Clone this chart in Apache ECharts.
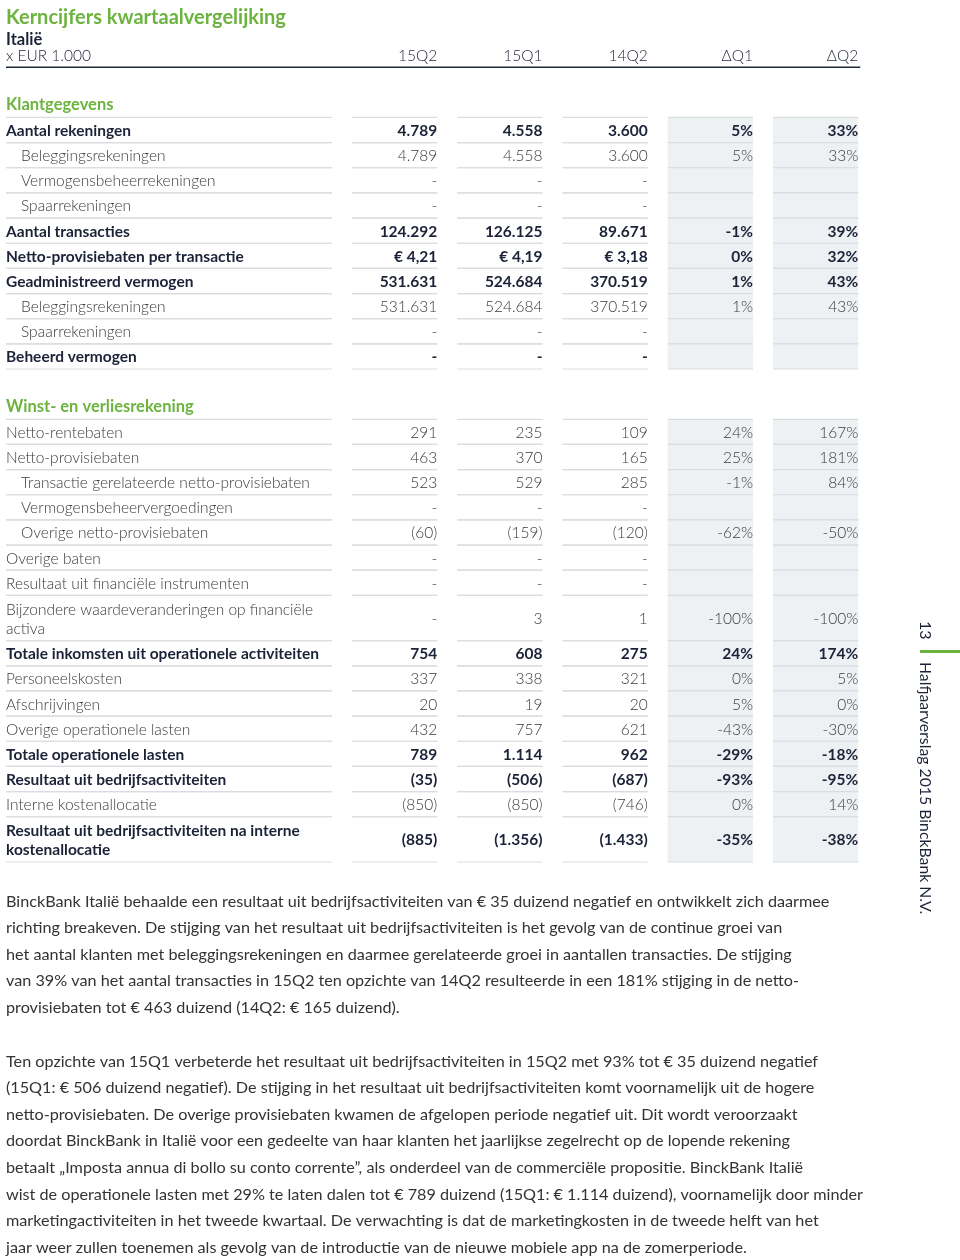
<!DOCTYPE html>
<html>
<head>
<meta charset="utf-8">
<script src="https://cdn.jsdelivr.net/npm/echarts@6/dist/echarts.min.js"></script>
<style>
html, body { margin: 0; padding: 0; background: #fff; }
#main { width: 960px; height: 1260px; }
</style>
</head>
<body>
<div id="main"></div>
<script>
var columns = ['15Q2', '15Q1', '14Q2', 'ΔQ1', 'ΔQ2'];

var rowLabels = [
    'x EUR 1.000', '', 'Klantgegevens',
    'Aantal rekeningen', 'Beleggingsrekeningen', 'Vermogensbeheerrekeningen', 'Spaarrekeningen',
    'Aantal transacties', 'Netto-provisiebaten per transactie', 'Geadministreerd vermogen',
    'Beleggingsrekeningen', 'Spaarrekeningen', 'Beheerd vermogen',
    '', 'Winst- en verliesrekening',
    'Netto-rentebaten', 'Netto-provisiebaten', 'Transactie gerelateerde netto-provisiebaten',
    'Vermogensbeheervergoedingen', 'Overige netto-provisiebaten', 'Overige baten',
    'Resultaat uit financiële instrumenten', 'Bijzondere waardeveranderingen op financiële\nactiva',
    'Totale inkomsten uit operationele activiteiten', 'Personeelskosten', 'Afschrijvingen',
    'Overige operationele lasten', 'Totale operationele lasten', 'Resultaat uit bedrijfsactiviteiten',
    'Interne kostenallocatie', 'Resultaat uit bedrijfsactiviteiten na interne\nkostenallocatie'
];
// head / gap / section / bold / normal / sub ; a "2" means two text lines
var rowKinds = [
    'head', 'gap', 'section',
    'bold', 'sub', 'sub', 'sub', 'bold', 'bold', 'bold', 'sub', 'sub', 'bold',
    'gap', 'section',
    'normal', 'normal', 'sub', 'sub', 'sub', 'normal', 'normal', 'normal2',
    'bold', 'normal', 'normal', 'normal', 'bold', 'bold', 'normal', 'bold2'
];
var euroRows = ['Netto-provisiebaten per transactie'];

var val15Q2 = [null, null, null,
    4789, 4789, null, null, 124292, 4.21, 531631, 531631, null, null,
    null, null,
    291, 463, 523, null, -60, null, null, null, 754, 337, 20, 432, 789, -35, -850, -885];
var val15Q1 = [null, null, null,
    4558, 4558, null, null, 126125, 4.19, 524684, 524684, null, null,
    null, null,
    235, 370, 529, null, -159, null, null, 3, 608, 338, 19, 757, 1114, -506, -850, -1356];
var val14Q2 = [null, null, null,
    3600, 3600, null, null, 89671, 3.18, 370519, 370519, null, null,
    null, null,
    109, 165, 285, null, -120, null, null, 1, 275, 321, 20, 621, 962, -687, -746, -1433];
var deltaQ1 = [null, null, null,
    5, 5, null, null, -1, 0, 1, 1, null, null,
    null, null,
    24, 25, -1, null, -62, null, null, -100, 24, 0, 5, -43, -29, -93, 0, -35];
var deltaQ2 = [null, null, null,
    33, 33, null, null, 39, 32, 43, 43, null, null,
    null, null,
    167, 181, 84, null, -50, null, null, -100, 174, 5, 0, -30, -18, -95, 14, -38];

var paragraph1 = [
    'BinckBank Italië behaalde een resultaat uit bedrijfsactiviteiten van € 35 duizend negatief en ontwikkelt zich daarmee',
    'richting breakeven. De stijging van het resultaat uit bedrijfsactiviteiten is het gevolg van de continue groei van',
    'het aantal klanten met beleggingsrekeningen en daarmee gerelateerde groei in aantallen transacties. De stijging',
    'van 39% van het aantal transacties in 15Q2 ten opzichte van 14Q2 resulteerde in een 181% stijging in de netto-',
    'provisiebaten tot € 463 duizend (14Q2: € 165 duizend).'
];
var paragraph2 = [
    'Ten opzichte van 15Q1 verbeterde het resultaat uit bedrijfsactiviteiten in 15Q2 met 93% tot € 35 duizend negatief',
    '(15Q1: € 506 duizend negatief). De stijging in het resultaat uit bedrijfsactiviteiten komt voornamelijk uit de hogere',
    'netto-provisiebaten. De overige provisiebaten kwamen de afgelopen periode negatief uit. Dit wordt veroorzaakt',
    'doordat BinckBank in Italië voor een gedeelte van haar klanten het jaarlijkse zegelrecht op de lopende rekening',
    'betaalt „Imposta annua di bollo su conto corrente”, als onderdeel van de commerciële propositie. BinckBank Italië',
    'wist de operationele lasten met 29% te laten dalen tot € 789 duizend (15Q1: € 1.114 duizend), voornamelijk door minder',
    'marketingactiviteiten in het tweede kwartaal. De verwachting is dat de marketingkosten in de tweede helft van het',
    'jaar weer zullen toenemen als gevolg van de introductie van de nieuwe mobiele app na de zomerperiode.'
];

var FONT = 'Lato, "Open Sans", sans-serif';
var GREEN = '#6cb33f';
var NAVY = '#1c2338';
var GREY = '#3a3a3a';
var LABEL_X = 6;
var LABEL_RIGHT = 332;
var CELL_PAD = 10;

function fmtNum(v, euro) {
    if (v == null) return '-';
    var a = Math.abs(v), s;
    if (euro) s = '€ ' + a.toFixed(2).replace('.', ',');
    else s = String(a).replace(/\B(?=(\d{3})+(?!\d))/g, '.');
    return v < 0 ? '(' + s + ')' : s;
}
function fmtPct(v) {
    return v == null ? '' : v + '%';
}

// row heights in units, then cumulative start/end
var rowData = [];
var pos = 0;
for (var i = 0; i < rowKinds.length; i++) {
    var h = rowKinds[i].slice(-1) == '2' ? 1.8 : 1;
    rowData.push([0, pos, pos + h, i]);
    pos += h;
}
var totalUnits = pos;

function renderRow(params, api) {
    var i = api.value(3);
    var kind = rowKinds[i];
    if (kind == 'gap') return { type: 'group', children: [] };
    var y0 = api.coord([0, api.value(1)])[1];
    var y1 = api.coord([0, api.value(2)])[1];
    var yc = (y0 + y1) / 2;
    var bw = api.size([1, 0])[0];
    var children = [];

    function cellX(c) {
        var cx = api.coord([c, 0])[0];
        return [cx - bw / 2 + CELL_PAD, cx + bw / 2 - CELL_PAD];
    }
    function line(xa, xb, y, color, w) {
        children.push({ type: 'line', shape: { x1: xa, y1: y, x2: xb, y2: y },
            style: { stroke: color, lineWidth: w } });
    }
    function text(str, x, y, align, weight, color, size) {
        children.push({ type: 'text', x: x, y: y,
            style: { text: str, align: align, verticalAlign: 'middle', fill: color,
                fontFamily: FONT, fontSize: size || 15.5, fontWeight: weight, lineHeight: 19 } });
    }

    if (kind == 'head') {
        text(rowLabels[i], LABEL_X, yc + 1, 'left', 300, NAVY);
        for (var c = 0; c < columns.length; c++) {
            text(columns[c], cellX(c)[1], yc + 1, 'right', 300, NAVY);
        }
        line(LABEL_X, cellX(columns.length - 1)[1] + 2, y1, '#1f2a3a', 1.5);
        return { type: 'group', children: children };
    }
    if (kind == 'section') {
        text(rowLabels[i], LABEL_X, yc, 'left', 'bold', GREEN, 16.5);
        return { type: 'group', children: children };
    }

    var bold = kind.indexOf('bold') == 0;
    var weight = bold ? 'bold' : 300;
    var color = bold ? NAVY : GREY;
    var labelX = kind == 'sub' ? LABEL_X + 15 : LABEL_X;
    var euro = euroRows.indexOf(rowLabels[i]) >= 0;
    var cells = [fmtNum(val15Q2[i], euro), fmtNum(val15Q1[i], euro), fmtNum(val14Q2[i], euro),
        fmtPct(deltaQ1[i]), fmtPct(deltaQ2[i])];

    for (var c = 3; c < columns.length; c++) {
        var xs = cellX(c);
        children.push({ type: 'rect', shape: { x: xs[0], y: y0, width: xs[1] - xs[0], height: y1 - y0 },
            style: { fill: '#edf1f4' } });
    }
    line(LABEL_X, LABEL_RIGHT, y0, '#dadde0', 1.2);
    line(LABEL_X, LABEL_RIGHT, y1, '#dadde0', 1.2);
    text(rowLabels[i], labelX, yc + 1, 'left', weight, color);
    for (var c = 0; c < columns.length; c++) {
        var xs = cellX(c);
        line(xs[0], xs[1], y0, '#dadde0', 1.2);
        line(xs[0], xs[1], y1, '#dadde0', 1.2);
        text(cells[c], xs[1], yc + 1, 'right', weight, color);
    }
    return { type: 'group', children: children };
}

var myChart = echarts.init(document.getElementById('main'));
var option = {
    backgroundColor: '#fff',
    animation: false,
    title: {
        text: 'Kerncijfers kwartaalvergelijking',
        subtext: 'Italië',
        left: LABEL_X - 5,
        top: 3,
        itemGap: 3,
        textStyle: { color: GREEN, fontFamily: FONT, fontSize: 20, fontWeight: 'bold' },
        subtextStyle: { color: NAVY, fontFamily: FONT, fontSize: 16.5, fontWeight: 'bold' }
    },
    grid: { left: 342, right: 91.75, top: 42, bottom: 398 },
    xAxis: { type: 'category', data: columns, show: false },
    yAxis: { type: 'value', inverse: true, min: 0, max: totalUnits, show: false },
    series: [{
        type: 'custom',
        clip: false,
        renderItem: renderRow,
        encode: { x: 0, y: [1, 2] },
        data: rowData
    }],
    graphic: [
        { type: 'text', left: LABEL_X, top: 888,
          style: { text: paragraph1.join('\n'), fill: '#333', fontFamily: FONT, fontSize: 16.2, lineHeight: 26.6 } },
        { type: 'text', left: LABEL_X, top: 1048,
          style: { text: paragraph2.join('\n'), fill: '#333', fontFamily: FONT, fontSize: 16.2, lineHeight: 26.6 } },
        { type: 'text', x: 925, y: 621, rotation: -Math.PI / 2,
          style: { text: '13', fill: NAVY, fontFamily: FONT, fontSize: 16, verticalAlign: 'middle' } },
        { type: 'text', x: 925, y: 662, rotation: -Math.PI / 2,
          style: { text: 'Halfjaarverslag 2015 BinckBank N.V.', fill: NAVY, fontFamily: FONT, fontSize: 15.8, verticalAlign: 'middle' } },
        { type: 'rect', shape: { x: 920, y: 650, width: 40, height: 3 }, style: { fill: GREEN } }
    ]
};
myChart.setOption(option);
</script>
</body>
</html>
